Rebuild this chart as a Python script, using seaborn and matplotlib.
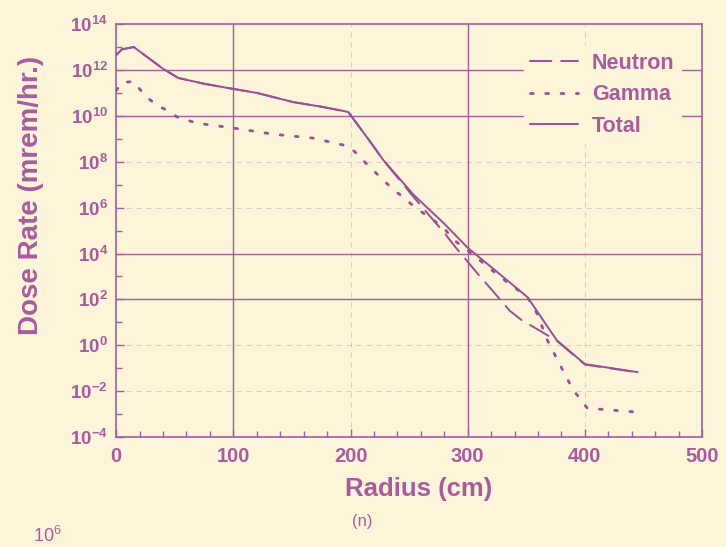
import numpy as np
import pandas as pd
import seaborn as sns
import matplotlib
matplotlib.use("Agg")
import matplotlib.pyplot as plt
from matplotlib.ticker import FixedLocator, MultipleLocator, NullFormatter

# ---- data (y given as log10 of dose rate) ----
total_x = [0, 5, 15, 40, 53, 75, 97, 120, 151, 175, 198, 215, 228, 254, 280, 300, 325, 351, 376, 400, 445]
total_log = [12.65, 12.9, 13.0, 12.05, 11.65, 11.4, 11.2, 11.0, 10.6, 10.4, 10.17, 9.0, 8.07, 6.55, 5.3, 4.25, 3.2, 2.1, 0.22, -0.82, -1.17]

neutron_x = [0, 5, 15, 40, 53, 75, 97, 120, 151, 175, 198, 215, 228, 254, 280, 290, 308, 320, 336, 346, 368, 376, 400, 445]
neutron_log = [12.65, 12.9, 13.0, 12.05, 11.65, 11.4, 11.2, 11.0, 10.6, 10.4, 10.17, 9.0, 8.07, 6.45, 4.9, 4.25, 3.15, 2.45, 1.5, 1.1, 0.44, 0.2, -0.84, -1.18]

gamma_x = [0, 5, 15, 20, 27, 36, 45, 52, 69, 100, 134, 168, 198, 206, 213, 228, 237, 245, 253, 261, 279, 288, 305, 328, 351, 359, 368, 382, 390, 397, 402, 441]
gamma_log = [11.1, 11.45, 11.5, 11.17, 10.77, 10.43, 10.2, 9.95, 9.68, 9.47, 9.2, 9.03, 8.68, 8.33, 7.94, 7.2, 6.76, 6.46, 6.1, 5.8, 5.15, 4.6, 3.93, 2.97, 2.1, 1.4, 0.22, -1.17, -1.95, -2.4, -2.74, -2.9]

x_ticks = [0, 100, 200, 300, 400, 500]
y_tick_exps = [-4, -2, 0, 2, 4, 6, 8, 10, 12, 14]
x_label = "Radius (cm)"
y_label = "Dose Rate (mrem/hr.)"
caption = "(n)"

# ---- styling ----
BG = "#FCF5DA"
LINE = "#9A4F95"
TEXT = "#A85C9E"
GRID = "#A0609A"

sns.set_theme(style="ticks")
plt.rcParams["font.family"] = ["Liberation Sans", "DejaVu Sans"]

fig = plt.figure(figsize=(7.26, 5.47), dpi=100, facecolor=BG)
ax = fig.add_axes([0.160, 0.201, 0.807, 0.755])
ax.set_facecolor(BG)

def frame(xs, ls, name):
    return pd.DataFrame({"x": xs, "y": np.power(10.0, ls), "series": name})

df = pd.concat([frame(neutron_x, neutron_log, "Neutron"),
                frame(gamma_x, gamma_log, "Gamma"),
                frame(total_x, total_log, "Total")], ignore_index=True)

# grid lines (solid ones and faint dashed ones)
for xv in [100, 300]:
    ax.axvline(xv, color=GRID, lw=1.0, zorder=1)
for xv in [200, 400]:
    ax.axvline(xv, color=GRID, lw=0.6, ls=(0, (6, 6)), alpha=0.35, zorder=1)
for yv in [1e12, 1e10, 1e4, 1e2]:
    ax.axhline(yv, color=GRID, lw=1.0, zorder=1)
for yv in [1e8, 1e6, 1e0, 1e-2]:
    ax.axhline(yv, color=GRID, lw=0.6, ls=(0, (6, 6)), alpha=0.35, zorder=1)

styles = {"Neutron": (0, (11, 5)), "Gamma": (0, (1, 4.5)), "Total": "-"}
widths = {"Neutron": 1.4, "Gamma": 2.0, "Total": 1.4}
for name in ["Neutron", "Gamma", "Total"]:
    sub = df[df["series"] == name]
    sns.lineplot(data=sub, x="x", y="y", ax=ax, color=LINE, lw=widths[name],
                 linestyle=styles[name], label=name, zorder=3,
                 dash_capstyle="round", estimator=None, sort=False)

ax.set_yscale("log")
ax.set_xlim(0, 500)
ax.set_ylim(1e-4, 1e14)

ax.xaxis.set_major_locator(FixedLocator(x_ticks))
ax.xaxis.set_minor_locator(MultipleLocator(20))
ax.yaxis.set_major_locator(FixedLocator([10.0 ** e for e in y_tick_exps]))
ax.yaxis.set_minor_locator(FixedLocator([10.0 ** e for e in range(-3, 14, 2)]))
ax.yaxis.set_minor_formatter(NullFormatter())
ax.set_xticklabels([str(v) for v in x_ticks], fontweight="bold")
ax.set_yticklabels([r"$\mathregular{10^{%d}}$" % e for e in y_tick_exps], fontweight="bold")

ax.tick_params(which="both", direction="in", colors=GRID, labelcolor=TEXT, width=1.0)
ax.tick_params(axis="y", labelsize=13.5)
ax.tick_params(axis="x", labelsize=14.5, pad=7)
ax.tick_params(which="major", length=6)
ax.tick_params(axis="y", which="major", pad=6)
ax.tick_params(which="minor", length=4)
for s in ax.spines.values():
    s.set_color(GRID)
    s.set_linewidth(1.2)

ax.set_xlabel(x_label, color=TEXT, fontsize=18.5, fontweight="bold")
ax.xaxis.set_label_coords(0.516, -0.097)
ax.set_ylabel(y_label, color=TEXT, fontsize=20, fontweight="bold")
ax.yaxis.set_label_coords(-0.124, 0.584)

leg = ax.legend(loc="upper right", bbox_to_anchor=(0.982, 0.972), frameon=True,
                facecolor=BG, edgecolor=BG, framealpha=1.0, fontsize=15.5,
                handlelength=2.2, handletextpad=0.65, labelspacing=0.48, borderpad=0.3)
for t in leg.get_texts():
    t.set_color(TEXT)
    t.set_fontweight("bold")

fig.text(0.499, 0.047, caption, color=TEXT, fontsize=12, ha="center", va="center")
fig.text(0.045, 0.001, r"$\mathregular{10^{6}}$", color=TEXT, fontsize=13, ha="left", va="bottom")

fig.savefig("out.png", dpi=100, facecolor=BG)
